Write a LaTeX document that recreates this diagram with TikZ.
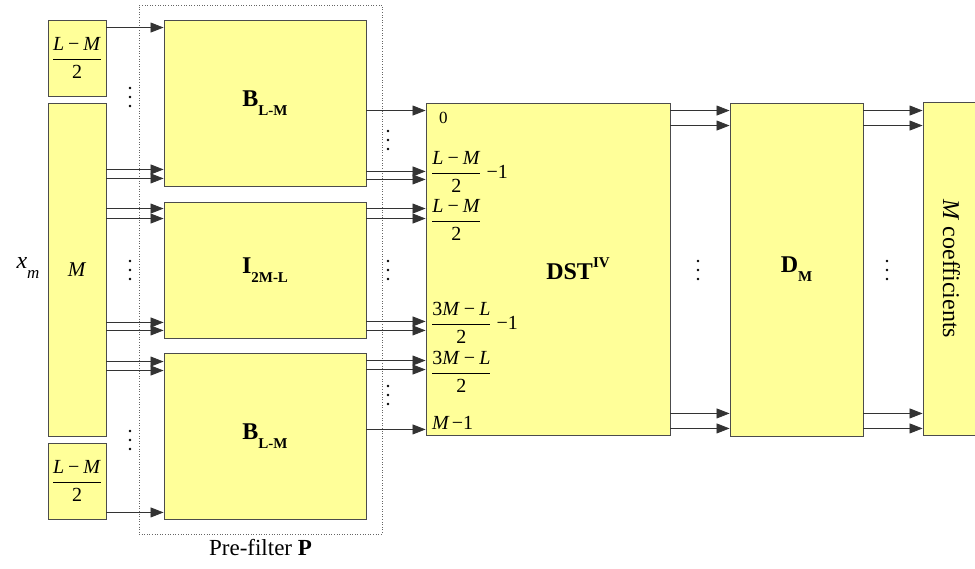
\documentclass[tikz,border=0pt]{standalone}
\usepackage{fontspec}
\setmainfont{Liberation Serif}
\usetikzlibrary{arrows.meta, positioning}
\definecolor{boxyellow}{HTML}{FFFF99}
\newcommand{\lowtxt}[2][15]{\raisebox{-0.38em}{\fontsize{#1}{#1}\selectfont #2}}
\newcommand{\hightxt}[2][15]{\raisebox{0.5em}{\fontsize{#1}{#1}\selectfont #2}}
\newcommand{\fracl}[2]{$\displaystyle\frac{\mbox{#1}}{\raisebox{0pt}[\height][0pt]{#2}}$}
\newcommand{\mminus}{\kern0.2em−\kern0.2em}
\begin{document}
\begin{tikzpicture}[x=1pt, y=1pt,
  blk/.style={rectangle, draw=black!70, line width=0.9pt, fill=boxyellow,
    inner sep=0pt, font=\fontsize{24}{28}\selectfont},
  sig/.style={draw=black!80, line width=0.8pt, -{Triangle[length=13pt, width=10pt]}},
  idx/.style={inner sep=0pt, anchor=west, font=\fontsize{20}{23}\selectfont}]
  \clip (0,0) rectangle (975,568);

  % input split
  \node[blk, minimum width=58pt, minimum height=76pt, font=\fontsize{20}{23}\selectfont] (s1) at (77,510) {\fracl{\textit{L}\mminus\textit{M}}{2}};
  \node[blk, minimum width=58pt, minimum height=333pt, font=\fontsize{21}{24}\selectfont] (mb) at (77,298.5) {\textit{M}};
  \node[blk, minimum width=58pt, minimum height=76pt, font=\fontsize{20}{23}\selectfont] (s2) at (77,87) {\fracl{\textit{L}\mminus\textit{M}}{2}};
  \node[inner sep=0pt, font=\fontsize{24}{28}\selectfont] (xm) at (28,300) {\textit{x}\lowtxt[17]{\textit{m}}};

  % pre-filter
  \node[draw=black!60, dotted, line width=0.6pt, minimum width=243pt, minimum height=529pt, inner sep=0pt] (pre) at (260.5,298.5) {};
  \node[below=4pt of pre, inner sep=1pt, font=\fontsize{23}{27}\selectfont] (prelbl) {Pre-filter \textbf{P}};
  \node[blk, minimum width=202pt, minimum height=166pt] (b1) at (265,465) {\textbf{B}\lowtxt{\textbf{L-M}}};
  \node[blk, minimum width=202pt, minimum height=136pt] (id) at (265,298) {\textbf{I}\lowtxt{\textbf{2M-L}}};
  \node[blk, minimum width=202pt, minimum height=166pt] (b2) at (265,132) {\textbf{B}\lowtxt{\textbf{L-M}}};

  % transform, decimation, output
  \node[blk, minimum width=244pt, minimum height=332pt] (dst) at (548,299) {};
  \node[inner sep=0pt, font=\fontsize{24}{28}\selectfont] (dsttxt) at (578,299) {\textbf{DST}\hightxt{\textbf{IV}}};
  \node[blk, minimum width=133pt, minimum height=333pt] (dm) at (796.5,298.5) {\textbf{D}\lowtxt{\textbf{M}}};
  \node[blk, minimum width=333pt, minimum height=57pt, rotate=-90] (cf) at (951.5,299) {\textit{M} coefficients};

  % DST input indices
  \node[idx, font=\fontsize{17}{20}\selectfont] (i0) at (439,450) {0};
  \node[idx] (i1) at (431,396) {\fracl{\textit{L}\mminus\textit{M}}{2}\kern0.25em−1};
  \node[idx] (i2) at (431,348) {\fracl{\textit{L}\mminus\textit{M}}{2}};
  \node[idx] (i3) at (431,245) {\fracl{3\textit{M}\mminus\textit{L}}{2}\kern0.25em−1};
  \node[idx] (i4) at (431,196) {\fracl{3\textit{M}\mminus\textit{L}}{2}};
  \node[idx] (i5) at (432,145) {\textit{M}\kern0.1em−1};

  % vertical dots
  \foreach \x/\y in {130/471, 130/298, 130/128, 388/428, 388/298, 388/173, 698/298, 887/298}
    \foreach \k in {-9,0,9}
      \fill (\x,\y+\k) circle (1.4pt);

  % split -> pre-filter
  \draw[sig] ([yshift=-8pt]b1.north west -| s1.east) -- ([yshift=-8pt]b1.north west);
  \draw[sig] ([yshift=17pt]b1.south west -| mb.east) -- ([yshift=17pt]b1.south west);
  \draw[sig] ([yshift=8pt]b1.south west -| mb.east) -- ([yshift=8pt]b1.south west);
  \draw[sig] ([yshift=-7pt]id.north west -| mb.east) -- ([yshift=-7pt]id.north west);
  \draw[sig] ([yshift=-17pt]id.north west -| mb.east) -- ([yshift=-17pt]id.north west);
  \draw[sig] ([yshift=16pt]id.south west -| mb.east) -- ([yshift=16pt]id.south west);
  \draw[sig] ([yshift=8pt]id.south west -| mb.east) -- ([yshift=8pt]id.south west);
  \draw[sig] ([yshift=-9pt]b2.north west -| mb.east) -- ([yshift=-9pt]b2.north west);
  \draw[sig] ([yshift=-18pt]b2.north west -| mb.east) -- ([yshift=-18pt]b2.north west);
  \draw[sig] ([yshift=7pt]b2.south west -| s2.east) -- ([yshift=7pt]b2.south west);

  % pre-filter -> DST
  \draw[sig] ([yshift=-8pt]dst.north west -| b1.east) -- ([yshift=-8pt]dst.north west);
  \draw[sig] ([yshift=15pt]b1.south east) -- ([yshift=15pt]b1.south east -| dst.west);
  \draw[sig] ([yshift=7pt]b1.south east) -- ([yshift=7pt]b1.south east -| dst.west);
  \draw[sig] ([yshift=-7pt]id.north east) -- ([yshift=-7pt]id.north east -| dst.west);
  \draw[sig] ([yshift=-17pt]id.north east) -- ([yshift=-17pt]id.north east -| dst.west);
  \draw[sig] ([yshift=17pt]id.south east) -- ([yshift=17pt]id.south east -| dst.west);
  \draw[sig] ([yshift=8pt]id.south east) -- ([yshift=8pt]id.south east -| dst.west);
  \draw[sig] ([yshift=-8pt]b2.north east) -- ([yshift=-8pt]b2.north east -| dst.west);
  \draw[sig] ([yshift=-17pt]b2.north east) -- ([yshift=-17pt]b2.north east -| dst.west);
  \draw[sig] ([yshift=6pt]dst.south west -| b2.east) -- ([yshift=6pt]dst.south west);

  % DST -> D -> coefficients
  \draw[sig] ([yshift=-8pt]dm.north west -| dst.east) -- ([yshift=-8pt]dm.north west);
  \draw[sig] ([yshift=-23pt]dm.north west -| dst.east) -- ([yshift=-23pt]dm.north west);
  \draw[sig] ([yshift=23pt]dm.south west -| dst.east) -- ([yshift=23pt]dm.south west);
  \draw[sig] ([yshift=8pt]dm.south west -| dst.east) -- ([yshift=8pt]dm.south west);
  \draw[sig] ([yshift=-8pt]dm.north east) -- ([yshift=-8pt]dm.north east -| cf.south);
  \draw[sig] ([yshift=-23pt]dm.north east) -- ([yshift=-23pt]dm.north east -| cf.south);
  \draw[sig] ([yshift=23pt]dm.south east) -- ([yshift=23pt]dm.south east -| cf.south);
  \draw[sig] ([yshift=8pt]dm.south east) -- ([yshift=8pt]dm.south east -| cf.south);
\end{tikzpicture}
\end{document}
